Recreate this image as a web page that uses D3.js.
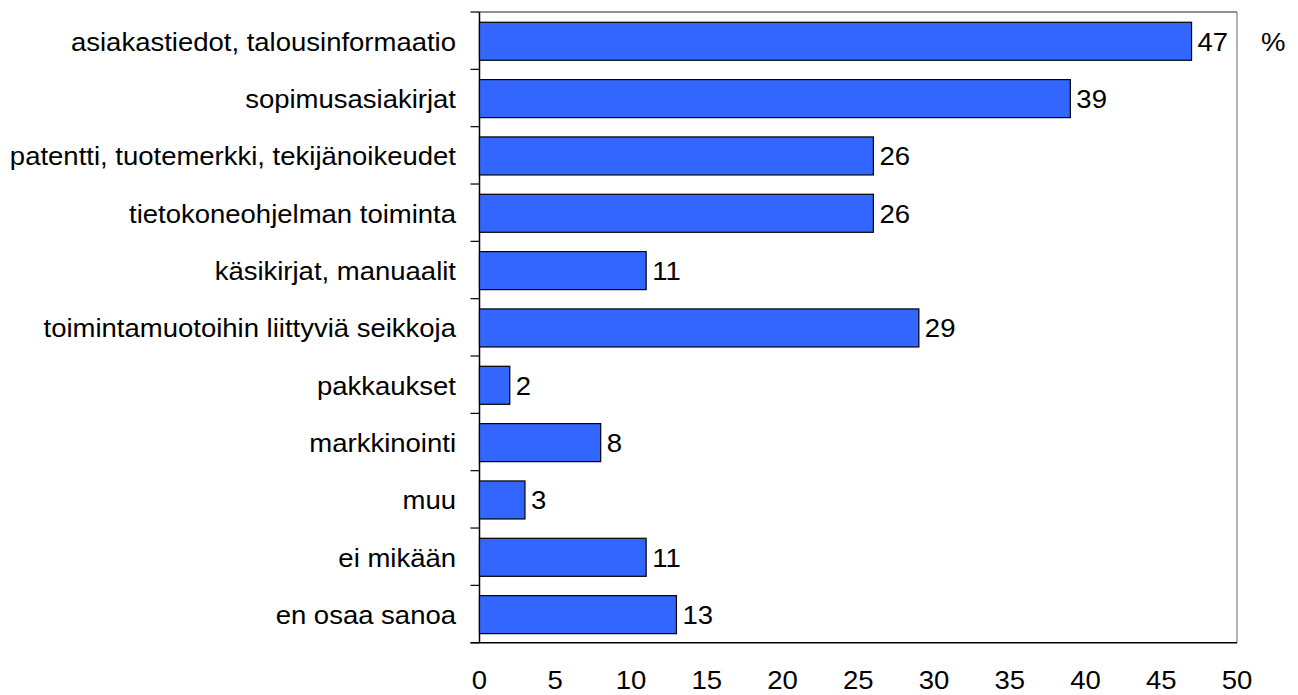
<!DOCTYPE html>
<html>
<head>
<meta charset="utf-8">
<script src="https://cdn.jsdelivr.net/npm/d3@7"></script>
<style>
  html, body { margin: 0; padding: 0; background: #fff; }
  svg { display: block; }
  text { font-family: "Liberation Sans", Arial, sans-serif; fill: #000; }
</style>
</head>
<body>
<svg id="chart" width="1298" height="695"></svg>
<script>
const categories = [
  "asiakastiedot, talousinformaatio",
  "sopimusasiakirjat",
  "patentti, tuotemerkki, tekijänoikeudet",
  "tietokoneohjelman toiminta",
  "käsikirjat, manuaalit",
  "toimintamuotoihin liittyviä seikkoja",
  "pakkaukset",
  "markkinointi",
  "muu",
  "ei mikään",
  "en osaa sanoa"
];
const values = [47, 39, 26, 26, 11, 29, 2, 8, 3, 11, 13];
const xTicks = [0, 5, 10, 15, 20, 25, 30, 35, 40, 45, 50];
const unitLabel = "%";

const svg = d3.select("#chart");
const pLeft = 479.5, pRight = 1237, pTop = 12, pBottom = 642.7;
const fs = 25, sx = 1.1;

const x = d3.scaleLinear().domain([0, 50]).range([pLeft, pRight]);
const y = d3.scaleBand().domain(categories).range([pTop, pBottom]).padding(0);
const barH = y.bandwidth() * 0.663;

// plot frame
svg.append("line").attr("x1", pLeft).attr("x2", pRight).attr("y1", pTop).attr("y2", pTop)
  .attr("stroke", "#222").attr("stroke-width", 1);
svg.append("line").attr("x1", pRight).attr("x2", pRight).attr("y1", pTop).attr("y2", pBottom)
  .attr("stroke", "#666").attr("stroke-width", 1);
svg.append("line").attr("x1", pLeft - 9).attr("x2", pRight).attr("y1", pBottom).attr("y2", pBottom)
  .attr("stroke", "#000").attr("stroke-width", 1.5);
svg.append("line").attr("x1", pLeft).attr("x2", pLeft).attr("y1", pTop).attr("y2", pBottom)
  .attr("stroke", "#000").attr("stroke-width", 1.5);

// left ticks at band boundaries
const bounds = categories.map(c => y(c)).concat([pBottom]);
svg.selectAll("line.ytick").data(bounds).enter().append("line")
  .attr("class", "ytick")
  .attr("x1", pLeft - 9).attr("x2", pLeft)
  .attr("y1", d => d).attr("y2", d => d)
  .attr("stroke", "#000").attr("stroke-width", 1.2);

// bars
svg.selectAll("rect.bar").data(categories).enter().append("rect")
  .attr("class", "bar")
  .attr("x", x(0))
  .attr("y", (d) => y(d) + y.bandwidth() / 2 - barH / 2 + 0.6)
  .attr("width", (d, i) => x(values[i]) - x(0))
  .attr("height", barH)
  .attr("fill", "#3366FF")
  .attr("stroke", "#000")
  .attr("stroke-width", 1.2);

function stretched(sel, tx, ty) {
  sel.attr("transform", (d, i) => `translate(${tx(d, i)},${ty(d, i)}) scale(${sx},1)`);
}

// category labels
svg.selectAll("text.cat").data(categories).enter().append("text")
  .attr("class", "cat")
  .attr("text-anchor", "end")
  .attr("font-size", fs)
  .text(d => d)
  .call(stretched, () => 456, d => y(d) + y.bandwidth() / 2 + 10);

// value labels
svg.selectAll("text.val").data(categories).enter().append("text")
  .attr("class", "val")
  .attr("text-anchor", "start")
  .attr("font-size", fs)
  .text((d, i) => values[i])
  .call(stretched, (d, i) => x(values[i]) + 6, d => y(d) + y.bandwidth() / 2 + 10);

// unit label
svg.append("text")
  .attr("text-anchor", "start")
  .attr("font-size", fs)
  .text(unitLabel)
  .attr("transform", `translate(1261,${y(categories[0]) + y.bandwidth() / 2 + 10}) scale(${sx},1)`);

// x tick labels
svg.selectAll("text.xt").data(xTicks).enter().append("text")
  .attr("class", "xt")
  .attr("text-anchor", "middle")
  .attr("font-size", fs)
  .text(d => d)
  .call(stretched, d => x(d), () => 689);
</script>
</body>
</html>
